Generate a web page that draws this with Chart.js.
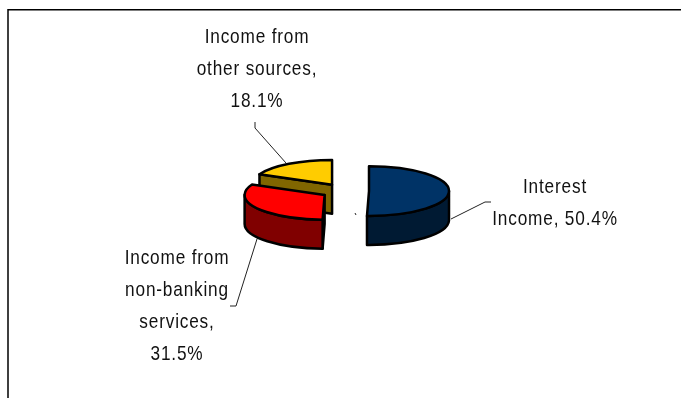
<!DOCTYPE html>
<html>
<head>
<meta charset="utf-8">
<style>
  html, body { margin: 0; padding: 0; background: #fff; overflow: hidden; }
  #wrap { position: absolute; left: 0; top: 0; width: 681px; height: 398px; }
</style>
<script src="https://cdn.jsdelivr.net/npm/chart.js@4/dist/chart.umd.js"></script>
</head>
<body>
<div id="wrap"><canvas id="incomeChart" width="681" height="398"></canvas></div>
<script>
const categories = ["Interest Income", "Income from non-banking services", "Income from other sources"];
const shares = [50.4, 31.5, 18.1];
const labelLines = [
    ["Interest", "Income, 50.4%"],
    ["Income from", "non-banking", "services,", "31.5%"],
    ["Income from", "other sources,", "18.1%"]
];
const topColors = ["#003366", "#FF0000", "#FFCC00"];
const sideColors = ["#001A33", "#800000", "#806600"];

// 3D look of the pie
const TILT = 0.31;
const DEPTH = 29;
const EXPLODE = 24;
const INK = "#000";

// narrow label face: regular sans squeezed horizontally, a little tracking
const labelStyle = { font: "21px 'Liberation Sans'", lineHeight: 32, squeeze: 0.82, tracking: "1px" };
const labelAnchors = [{ x: 555, y: 187 }, { x: 177, y: 258 }, { x: 257, y: 37 }];
const leaders = [
    [[451, 219], [485, 202], [491, 202]],
    [[257, 239], [236, 306], [230, 306]],
    [[286, 163], [255, 128], [255, 122]],
    [[355, 213], [356, 215]]
];

function facePath(ctx, points) {
    ctx.beginPath();
    points.forEach((p, i) => i ? ctx.lineTo(p[0], p[1]) : ctx.moveTo(p[0], p[1]));
    ctx.closePath();
}

function paint(ctx, fill) {
    ctx.fillStyle = fill;
    ctx.fill();
    ctx.lineWidth = 2.5;
    ctx.lineJoin = "round";
    ctx.strokeStyle = INK;
    ctx.stroke();
}

function drawSlice(ctx, arc, i) {
    const mid = (arc.startAngle + arc.endAngle) / 2;
    const cx = arc.x + Math.cos(mid) * EXPLODE;
    const cy = arc.y + Math.sin(mid) * EXPLODE * TILT;
    const r = arc.outerRadius;
    const ry = r * TILT;
    const rim = a => [cx + Math.cos(a) * r, cy + Math.sin(a) * ry];
    const radialFace = a => {
        const p = rim(a);
        facePath(ctx, [[cx, cy], p, [p[0], p[1] + DEPTH], [cx, cy + DEPTH]]);
        paint(ctx, sideColors[i]);
    };

    // cut faces that turn towards the viewer
    if (Math.cos(arc.startAngle) < 0) radialFace(arc.startAngle);
    if (Math.cos(arc.endAngle) > 0) radialFace(arc.endAngle);

    // outer wall, only the front half of the rim shows
    const wallStart = Math.max(arc.startAngle, 0);
    const wallEnd = Math.min(arc.endAngle, Math.PI);
    if (wallEnd > wallStart) {
        ctx.beginPath();
        ctx.ellipse(cx, cy, r, ry, 0, wallStart, wallEnd);
        ctx.ellipse(cx, cy + DEPTH, r, ry, 0, wallEnd, wallStart, true);
        ctx.closePath();
        paint(ctx, sideColors[i]);
    }

    ctx.beginPath();
    ctx.moveTo(cx, cy);
    ctx.ellipse(cx, cy, r, ry, 0, arc.startAngle, arc.endAngle);
    ctx.closePath();
    paint(ctx, topColors[i]);
}

const tiltedPie = {
    id: "tiltedPie",
    beforeDatasetDraw(chart, args) {
        const arcs = args.meta.data;
        const ctx = chart.ctx;
        ctx.save();
        // back slice first so the front ones overlap it
        [2, 0, 1].forEach(i => drawSlice(ctx, arcs[i], i));
        ctx.restore();
        return false;
    }
};

const frameAndLabels = {
    id: "frameAndLabels",
    afterDraw(chart) {
        const ctx = chart.ctx;
        ctx.save();

        ctx.strokeStyle = "#000";
        ctx.lineWidth = 1.5;
        ctx.beginPath();
        ctx.moveTo(8, 398);
        ctx.lineTo(8, 9.75);
        ctx.lineTo(681, 9.75);
        ctx.stroke();

        ctx.strokeStyle = "#222";
        ctx.lineWidth = 1;
        leaders.forEach(line => {
            ctx.beginPath();
            line.forEach((p, i) => i ? ctx.lineTo(p[0], p[1]) : ctx.moveTo(p[0], p[1]));
            ctx.stroke();
        });

        ctx.fillStyle = "#111";
        ctx.font = labelStyle.font;
        ctx.letterSpacing = labelStyle.tracking;
        ctx.textAlign = "center";
        ctx.textBaseline = "middle";
        labelLines.forEach((lines, i) => {
            lines.forEach((text, j) => {
                ctx.save();
                ctx.translate(labelAnchors[i].x, labelAnchors[i].y + j * labelStyle.lineHeight);
                ctx.scale(labelStyle.squeeze, 1);
                ctx.fillText(text, 0, 0);
                ctx.restore();
            });
        });
        ctx.restore();
    }
};

new Chart(document.getElementById("incomeChart"), {
    type: "pie",
    data: {
        labels: categories,
        datasets: [{
            data: shares,
            backgroundColor: topColors,
            borderWidth: 0
        }]
    },
    options: {
        responsive: false,
        animation: false,
        radius: 80,
        layout: { padding: { left: 255, right: 246, top: 11, bottom: 27 } },
        plugins: { legend: { display: false }, tooltip: { enabled: false } }
    },
    plugins: [tiltedPie, frameAndLabels]
});
</script>
</body>
</html>
